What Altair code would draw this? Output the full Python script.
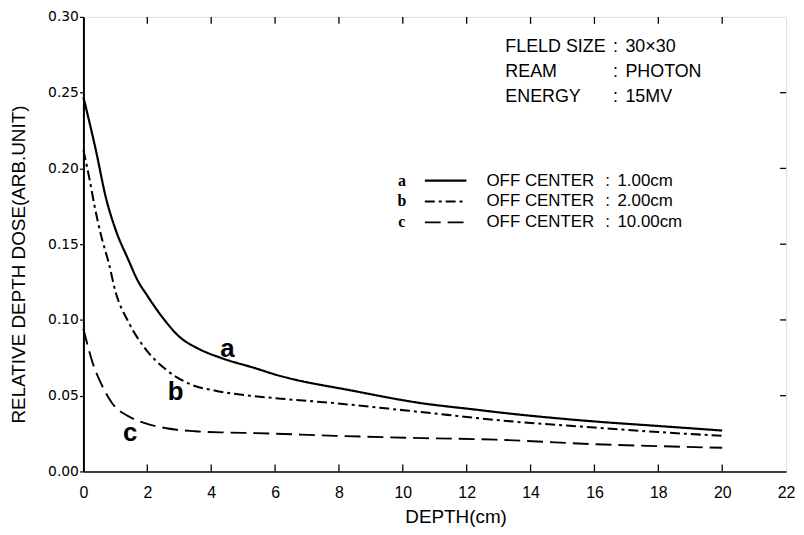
import altair as alt
import pandas as pd

# ---- data ----
depth_a = [0, 0.4, 0.7, 1.0, 1.4, 1.7, 2.0, 2.5, 3.0, 3.6, 4.3, 5.4, 6.0, 8.5, 10.6, 12.2, 13.0, 16.0, 18.0, 20.0]
dose_a = [0.247, 0.211, 0.181, 0.160, 0.140, 0.126, 0.116, 0.101, 0.089, 0.081, 0.075, 0.068, 0.064, 0.053, 0.045, 0.041, 0.039, 0.033, 0.030, 0.027]
depth_b = [0, 0.2, 0.35, 0.55, 0.8, 1.0, 1.4, 1.9, 2.6, 3.3, 4.2, 5.2, 6.2, 7.9, 10.2, 12.0, 12.9, 16.0, 18.0, 20.0]
dose_b = [0.212, 0.192, 0.175, 0.156, 0.137, 0.119, 0.099, 0.082, 0.067, 0.058, 0.053, 0.050, 0.048, 0.045, 0.040, 0.036, 0.034, 0.029, 0.026, 0.0235]
depth_c = [0, 0.3, 0.6, 0.9, 1.4, 1.9, 2.6, 3.5, 4.5, 5.4, 7.9, 10.6, 12.9, 16.0, 18.0, 20.0]
dose_c = [0.094, 0.071, 0.056, 0.045, 0.0365, 0.032, 0.0285, 0.0265, 0.0257, 0.0253, 0.0235, 0.022, 0.021, 0.018, 0.0167, 0.0156]

series_names = ["a", "b", "c"]
legend_values = ["1.00cm", "2.00cm", "10.00cm"]
x_ticks = [0, 2, 4, 6, 8, 10, 12, 14, 16, 18, 20, 22]
y_ticks = [0.00, 0.05, 0.10, 0.15, 0.20, 0.25, 0.30]

info_keys = ["FLELD SIZE", "REAM", "ENERGY"]
info_vals = ["30×30", "PHOTON", "15MV"]

# annotation anchors (data coordinates)
info_rows = [0.2803, 0.2633, 0.2470]
legend_rows = [0.1919, 0.1782, 0.1644]
label_depth = [4.51, 2.89, 1.46]
label_dose = [0.0806, 0.0524, 0.0255]

W, H = 708, 458

rows = []
for s, xs, ys in zip(series_names, [depth_a, depth_b, depth_c], [dose_a, dose_b, dose_c]):
    for i, (x, y) in enumerate(zip(xs, ys)):
        rows.append({"series": s, "depth": x, "dose": y, "order": i})
curves_df = pd.DataFrame(rows)

xscale = alt.Scale(domain=[0, 22], nice=False, zero=False)
yscale = alt.Scale(domain=[0, 0.30], nice=False)
dash_scale = alt.Scale(domain=series_names, range=[[1, 0], [10, 4, 3, 4], [16, 7]])
width_scale = alt.Scale(domain=series_names, range=[2.2, 1.9, 1.9])

xaxis = alt.Axis(values=x_ticks, format="d", grid=False, ticks=False,
                 domainColor="black", domainWidth=1.5,
                 labelFont="Liberation Sans", labelFontSize=16, labelColor="black",
                 labelPadding=13, labelFlush=False,
                 titleFont="Liberation Sans", titleFontSize=19, titleFontWeight="normal",
                 titleColor="black", titleX=375, titlePadding=7)
yaxis = alt.Axis(values=y_ticks, format=".2f", grid=False, tickSize=4, tickColor="black",
                 tickWidth=1.2, domainColor="black", domainWidth=2,
                 labelFont="DejaVu Sans", labelFontSize=14, labelColor="black",
                 labelPadding=1, labelFlush=False,
                 titleFont="Liberation Sans", titleFontSize=19, titleFontWeight="normal",
                 titleColor="black", titleY=249, titlePadding=19)

X = alt.X("depth:Q", scale=xscale, axis=xaxis, title="DEPTH(cm)")
Y = alt.Y("dose:Q", scale=yscale, axis=yaxis, title="RELATIVE DEPTH DOSE(ARB.UNIT)")

curves = alt.Chart(curves_df).mark_line(color="black", interpolate="monotone").encode(
    x=X, y=Y,
    order="order:Q",
    strokeDash=alt.StrokeDash("series:N", scale=dash_scale, legend=None),
    strokeWidth=alt.StrokeWidth("series:N", scale=width_scale, legend=None),
)

# inward frame ticks
xt_df = pd.DataFrame({"depth": x_ticks[1:-1]})
yt_df = pd.DataFrame({"dose": y_ticks[1:-1]})
bottom_ticks = alt.Chart(xt_df).mark_rule(color="black", strokeWidth=1.3).encode(
    x=X, y=alt.value(H), y2=alt.value(H - 7))
top_ticks = alt.Chart(xt_df).mark_rule(color="black", strokeWidth=1.3).encode(
    x=X, y=alt.value(0), y2=alt.value(7))
right_ticks = alt.Chart(yt_df).mark_rule(color="black", strokeWidth=1.3).encode(
    y=Y, x=alt.value(W), x2=alt.value(W - 6))

# legend (every layer uses the shared 'depth' / 'dose' fields)
leg_line_df = pd.DataFrame({"series": series_names, "dose": legend_rows,
                            "depth": [10.69] * 3, "depth2": [11.99] * 3})
leg_letter_df = pd.DataFrame({"series": series_names, "dose": legend_rows, "depth": [9.97] * 3})
leg_text_df = pd.DataFrame({"dose": legend_rows, "depth": [12.62] * 3})
leg_colon_df = pd.DataFrame({"dose": legend_rows, "depth": [16.41] * 3})
leg_val_df = pd.DataFrame({"dose": legend_rows, "depth": [16.72] * 3, "value": legend_values})

leg_lines = alt.Chart(leg_line_df).mark_rule(color="black").encode(
    x=X, x2="depth2:Q", y=Y,
    strokeDash=alt.StrokeDash("series:N", scale=dash_scale, legend=None),
    strokeWidth=alt.StrokeWidth("series:N", scale=width_scale, legend=None),
)
leg_letters = alt.Chart(leg_letter_df).mark_text(font="Liberation Serif", fontWeight="bold", fontSize=16,
                                                 color="black", align="center", baseline="middle").encode(
    x=X, y=Y, text="series:N")
leg_text = alt.Chart(leg_text_df).mark_text(font="Liberation Sans", fontSize=17, color="black",
                                            align="left", baseline="middle", text="OFF CENTER").encode(
    x=X, y=Y)
leg_colon = alt.Chart(leg_colon_df).mark_text(font="Liberation Sans", fontSize=17, color="black",
                                              align="center", baseline="middle", text=":").encode(
    x=X, y=Y)
leg_vals = alt.Chart(leg_val_df).mark_text(font="Liberation Sans", fontSize=17, color="black",
                                           align="left", baseline="middle").encode(
    x=X, y=Y, text="value:N")

# info block
info_key_df = pd.DataFrame({"key": info_keys, "dose": info_rows, "depth": [13.21] * 3})
info_colon_df = pd.DataFrame({"dose": info_rows, "depth": [16.66] * 3})
info_val_df = pd.DataFrame({"val": info_vals, "dose": info_rows, "depth": [16.97] * 3})
info_key = alt.Chart(info_key_df).mark_text(font="Liberation Sans", fontSize=18, color="black",
                                            align="left", baseline="middle").encode(
    x=X, y=Y, text="key:N")
info_colon = alt.Chart(info_colon_df).mark_text(font="Liberation Sans", fontSize=18, color="black",
                                                align="center", baseline="middle", text=":").encode(
    x=X, y=Y)
info_val = alt.Chart(info_val_df).mark_text(font="Liberation Sans", fontSize=18, color="black",
                                            align="left", baseline="middle").encode(
    x=X, y=Y, text="val:N")

# curve labels
lab_df = pd.DataFrame({"series": series_names, "depth": label_depth, "dose": label_dose})
curve_labels = alt.Chart(lab_df).mark_text(font="Liberation Sans", fontWeight="bold", fontSize=26,
                                           color="black", align="center", baseline="middle").encode(
    x=X, y=Y, text="series:N")

chart = alt.layer(
    curves, bottom_ticks, top_ticks, right_ticks,
    leg_lines, leg_letters, leg_text, leg_colon, leg_vals,
    info_key, info_colon, info_val, curve_labels,
).properties(
    width=W, height=H,
    autosize=alt.AutoSizeParams(type="none"),
    padding={"left": 76, "top": 7, "right": 10, "bottom": 54},
).configure_view(stroke="black", strokeWidth=1.5).configure(background="white")

chart.save("out.html", embed_options={"renderer": "svg", "actions": False})
